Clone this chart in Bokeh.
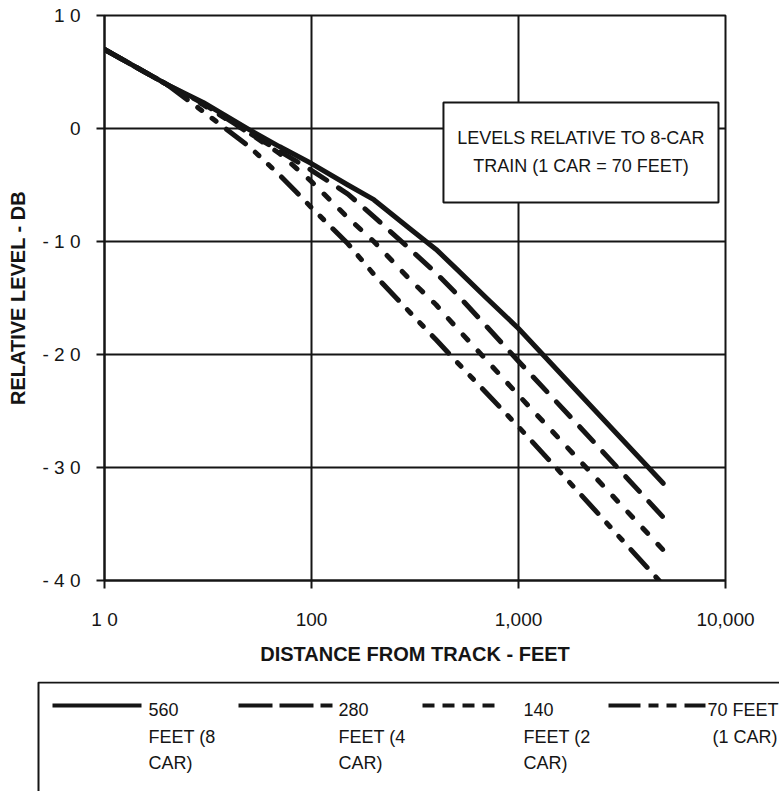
from bokeh.plotting import figure
from bokeh.models import Range1d, FixedTicker, BoxAnnotation, Label, CustomJSTickFormatter
from bokeh.layouts import column
from bokeh.embed import file_html
from bokeh.resources import INLINE
from bokeh.core.properties import value

# ---------------- data ----------------
distance_ft = [10, 20, 30, 50, 70, 100, 150, 200, 300, 400, 500, 700, 1000, 2000, 5000]
level_560 = [7.0, 3.9, 2.3, -0.1, -1.6, -3.1, -5.0, -6.3, -8.9, -10.7, -12.4, -15.0, -17.7, -23.6, -31.4]
level_280 = [7.0, 3.9, 2.2, -0.4, -2.0, -3.7, -5.8, -7.8, -10.7, -12.8, -14.6, -17.5, -20.6, -26.5, -34.4]
level_140 = [7.0, 3.9, 2.1, -0.4, -2.2, -4.7, -7.9, -10.0, -13.4, -15.6, -17.6, -20.5, -23.6, -29.5, -37.3]
level_70 = [7.0, 3.9, 1.5, -1.6, -4.1, -7.0, -10.2, -12.9, -16.3, -18.7, -20.6, -23.4, -26.4, -32.4, -40.4]

series_levels = [level_560, level_280, level_140, level_70]
legend_lines = [["560", "FEET (8", "CAR)"],
                ["280", "FEET (4", "CAR)"],
                ["140", "FEET (2", "CAR)"],
                ["70 FEET", "(1 CAR)"]]

x_tick_values = [10, 100, 1000, 10000]
x_tick_labels = ["1 0", "100", "1,000", "10,000"]
y_tick_values = [-40, -30, -20, -10, 0, 10]
y_tick_labels = ["- 4 0", "- 3 0", "- 2 0", "- 1 0", "0", "1 0"]

note_lines = ["LEVELS RELATIVE TO 8-CAR", "TRAIN (1 CAR = 70 FEET)"]
x_title = "DISTANCE FROM TRACK - FEET"
y_title = "RELATIVE LEVEL - DB"

# ---------------- styling ----------------
INK = "#151515"
FONT = "Liberation Sans"
W = 779
MAIN_H = 681
LEG_H = 791 - MAIN_H
series_dash = ["solid", "20 14", "7 15", "24 13 5 13 5 13"]
legend_dash = ["solid", "34 7", "12 8", "32 8 10 8 10 8"]

p = figure(width=W, height=MAIN_H, x_axis_type="log",
           x_range=Range1d(10, 10000), y_range=Range1d(-40, 10),
           output_backend="svg", toolbar_location=None,
           min_border_left=104, min_border_right=54, min_border_top=15,
           min_border_bottom=MAIN_H - 580)
p.frame_align = False
p.background_fill_color = "white"
p.border_fill_color = "white"
p.outline_line_color = INK
p.outline_line_width = 2

fmt_js = """
for (let k = 0; k < vals.length; k++) {
  if (Math.abs(vals[k] - tick) < 1e-6 * Math.max(1, Math.abs(vals[k]))) { return labs[k]; }
}
return '';
"""
p.xaxis.ticker = FixedTicker(ticks=x_tick_values, minor_ticks=[])
p.xaxis.formatter = CustomJSTickFormatter(args=dict(vals=x_tick_values, labs=x_tick_labels), code=fmt_js)
p.yaxis.ticker = FixedTicker(ticks=y_tick_values, minor_ticks=[])
p.yaxis.formatter = CustomJSTickFormatter(args=dict(vals=y_tick_values, labs=y_tick_labels), code=fmt_js)

for ax in (p.xaxis, p.yaxis):
    ax.axis_line_color = INK
    ax.axis_line_width = 2
    ax.major_tick_line_color = INK
    ax.major_tick_line_width = 2
    ax.major_tick_out = 8
    ax.major_tick_in = 0
    ax.minor_tick_line_color = None
    ax.major_label_text_font = FONT
    ax.major_label_text_font_style = "normal"
    ax.major_label_text_font_size = "19px"
    ax.major_label_text_color = INK
    ax.axis_label_text_font = FONT
    ax.axis_label_text_font_style = "bold"
    ax.axis_label_text_font_size = "20px"
    ax.axis_label_text_color = INK

p.xaxis.axis_label = x_title
p.yaxis.axis_label = y_title
p.xaxis.major_label_standoff = 20
p.xaxis.axis_label_standoff = 10
p.yaxis.major_label_standoff = 16
p.yaxis.axis_label_standoff = 10

p.xgrid.ticker = FixedTicker(ticks=[100, 1000], minor_ticks=[])
p.ygrid.ticker = FixedTicker(ticks=[-30, -20, -10, 0], minor_ticks=[])
p.grid.grid_line_color = INK
p.grid.grid_line_width = 2
p.grid.minor_grid_line_color = None

for lv, dash in zip(series_levels, series_dash):
    p.line(distance_ft, lv, line_color=INK, line_width=5, line_dash=dash,
           line_cap="round", line_join="round")

# note box (annotation, data units)
p.add_layout(BoxAnnotation(left=434, right=9250, top=2.3, bottom=-6.55,
                           fill_color="white", fill_alpha=1.0,
                           line_color=INK, line_alpha=1.0, line_width=2,
                           level="annotation"))
for txt, ny in zip(note_lines, [-0.88, -3.35]):
    p.add_layout(Label(x=2004, y=ny, text=txt, text_align="center", text_baseline="middle",
                       text_font=FONT, text_font_size="18px", text_color=INK))

# ---------------- legend panel (pixel coordinates of this panel) ----------------
leg = figure(width=W, height=LEG_H, x_range=Range1d(0, W), y_range=Range1d(LEG_H, 0),
             x_axis_type=None, y_axis_type=None, output_backend="svg",
             toolbar_location=None, min_border=0)
leg.frame_align = False
leg.outline_line_color = None
leg.grid.visible = False
leg.background_fill_color = "white"
leg.border_fill_color = "white"

leg.line([38, 38, W + 30], [LEG_H + 30, 1, 1], line_color=INK, line_width=2)

sample_x = [(52, 141), (238, 332), (422, 500), (608, 705)]
text_x = [[148, 148, 148], [338, 338, 338], [523, 523, 523], [707, 712]]
row_y = [28, 55, 81]
sample_y = 24
for (xa, xb), dash, lines, tx in zip(sample_x, legend_dash, legend_lines, text_x):
    leg.line([xa, xb], [sample_y, sample_y], line_color=INK, line_width=4, line_dash=dash)
    leg.text(x=tx, y=row_y[:len(lines)], text=lines, text_font=value(FONT),
             text_font_size="18px", text_baseline="middle", text_align="left",
             text_color=INK)

layout = column(p, leg, spacing=0)
open("out.html", "w").write(file_html(layout, INLINE))
